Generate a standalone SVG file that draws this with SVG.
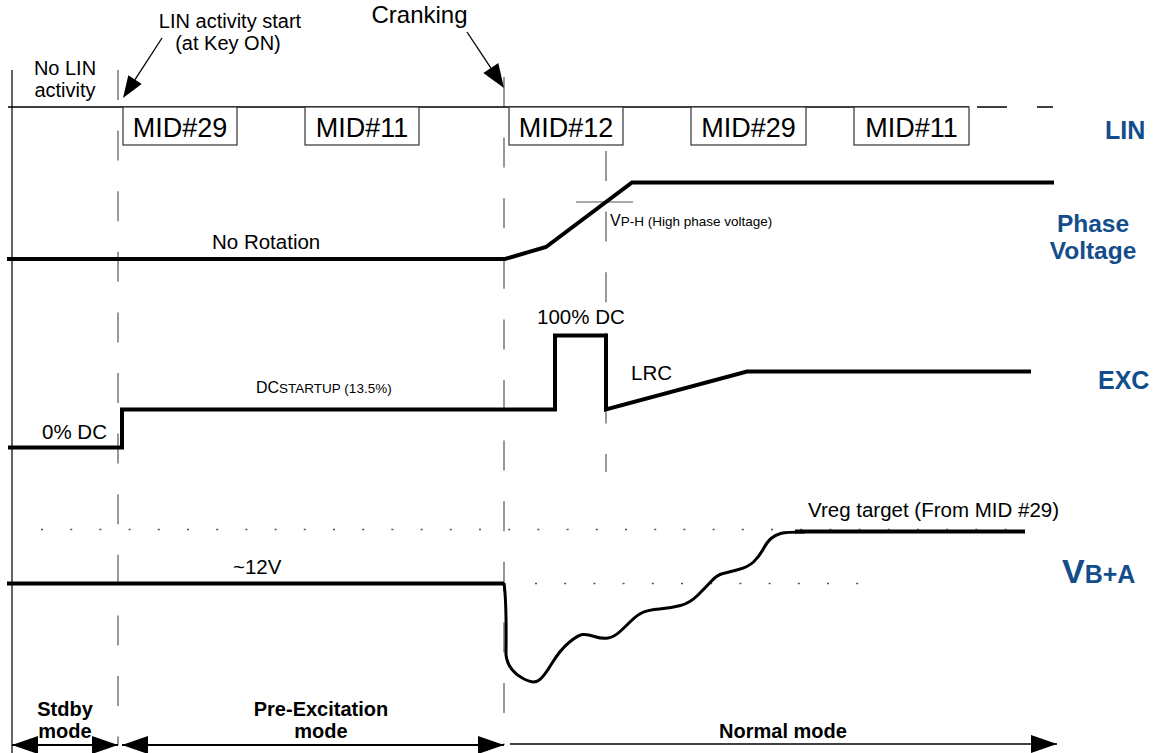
<svg xmlns="http://www.w3.org/2000/svg" width="1157" height="753" viewBox="0 0 1157 753">
<defs>
<style>
text{font-family:"Liberation Sans",Arial,Helvetica,sans-serif;fill:#000}
.t{font-size:20.5px}
.top{font-size:20px}
.mid{font-size:27px}
.lbl{font-size:25px;font-weight:bold;fill:#134d8b}
.mode{font-size:20px;font-weight:bold}
.axis{stroke:#111;stroke-width:1.3;fill:none}
.dash{stroke:#555;stroke-width:1.2;stroke-dasharray:30 30.6;fill:none}
.dot{stroke:#555;stroke-width:1.5;stroke-dasharray:2 27.2;fill:none}
.trace{stroke:#000;stroke-width:4;fill:none}
.box{fill:#fff;stroke:#333;stroke-width:1.2}
.arr{stroke:#000;stroke-width:2;fill:none}
.thin{stroke:#000;stroke-width:1.3;fill:none}
</style>
<marker id="ah" markerUnits="userSpaceOnUse" markerWidth="26" markerHeight="18" refX="26" refY="9" orient="auto-start-reverse" viewBox="0 0 26 18"><path d="M0,0 L26,9 L0,18 z" fill="#000"/></marker>
</defs>
<rect width="1157" height="753" fill="#fff"/>

<g id="grid">
<line class="axis" x1="12" y1="70" x2="12" y2="753"/>
<line class="dash" x1="118" y1="70" x2="118" y2="745"/>
<line class="dash" x1="504" y1="77" x2="504" y2="745"/>
<line class="dash" x1="606" y1="151" x2="606" y2="472"/>
<line class="dot" x1="41" y1="529.5" x2="1030" y2="529.5"/>
<line class="dot" x1="535" y1="583.5" x2="885" y2="583.5"/>
<line stroke="#555" stroke-width="1.2" x1="576" y1="202" x2="633" y2="202"/>
</g>

<g id="lin">
<path class="thin" d="M8,107 H969 M977,107 H1007 M1037,107 H1053"/>
<g id="mid29a"><rect class="box" x="123" y="107" width="114" height="38"/><text class="mid" x="180" y="137" text-anchor="middle">MID#29</text></g>
<g id="mid11a"><rect class="box" x="305" y="107" width="114" height="38"/><text class="mid" x="362" y="137" text-anchor="middle">MID#11</text></g>
<g id="mid12"><rect class="box" x="509" y="107" width="114" height="38"/><text class="mid" x="566" y="137" text-anchor="middle">MID#12</text></g>
<g id="mid29b"><rect class="box" x="691" y="107" width="115" height="38"/><text class="mid" x="748.5" y="137" text-anchor="middle">MID#29</text></g>
<g id="mid11b"><rect class="box" x="854" y="107" width="115" height="38"/><text class="mid" x="911.5" y="137" text-anchor="middle">MID#11</text></g>
<text class="lbl" x="1105" y="139">LIN</text>
</g>

<g id="annotations">
<text class="top" x="65" y="75" text-anchor="middle">No LIN</text>
<text class="top" x="65" y="97" text-anchor="middle">activity</text>
<text class="top" x="230" y="28" text-anchor="middle">LIN activity start</text>
<text class="top" x="228" y="50" text-anchor="middle">(at Key ON)</text>
<text class="top" x="419.5" y="23" text-anchor="middle" style="font-size:24px">Cranking</text>
</g>

<g id="phase">
<path class="trace" d="M7,259 L505,259 L546,247 L632,182.5 L1054,182.5"/>
<text class="t" x="212" y="249">No Rotation</text>
<text x="610" y="226" style="font-size:16px">V<tspan style="font-size:13.5px">P-H (High phase voltage)</tspan></text>
<text class="lbl" x="1093" y="232" text-anchor="middle" style="font-size:24.5px">Phase</text>
<text class="lbl" x="1093" y="259" text-anchor="middle" style="font-size:24.5px">Voltage</text>
</g>

<g id="exc">
<path class="trace" d="M8,447.5 L122,447.5 L122,409.5 L555,409.5 L555,335.5 L606,335.5 L606,409.5 L747,371.5 L1031,371.5"/>
<text class="t" x="42" y="439">0% DC</text>
<text x="256" y="393" style="font-size:16px">DC<tspan style="font-size:13.5px">STARTUP (13.5%)</tspan></text>
<text class="t" x="537" y="324">100% DC</text>
<text class="t" x="631" y="380">LRC</text>
<text class="lbl" x="1098" y="389">EXC</text>
</g>

<g id="vba">
<path class="trace" d="M7,583.5 L504,583.5"/>
<path stroke="#000" stroke-width="3" fill="none" stroke-linejoin="round" d="M504,583 C507,605 506,640 506,655 Q508,671 524,679 Q534,684 538.5,680.5 Q543,678 551.5,664 Q560,650 569,642.5 Q578,635 582.5,634.5 Q587,634 594.5,636.5 Q602,639 608,638 Q614,637 619.5,632 Q625,627 631,621 Q637,615 642.5,612.5 Q648,610 659.5,609 Q671,608 680.5,605.5 Q690,603 698,595 Q706,587 711.5,581 Q717,575 723,573.5 Q729,572 738.5,569.5 Q748,567 753.5,562 Q759,557 763,549.5 Q767,542 771,538.5 Q775,535 780.5,533.5 Q786,532 805,532"/>
<path class="trace" d="M795,531.5 L1025,531.5"/>
<text class="t" x="233" y="574">~12V</text>
<text class="t" x="808" y="517">Vreg target (From MID #29)</text>
<text class="lbl" x="1062" y="583" style="font-size:34px">V<tspan style="font-size:25px">B+A</tspan></text>
</g>

<g id="modes">
<text class="mode" x="65" y="716" text-anchor="middle">Stdby</text>
<text class="mode" x="65" y="738" text-anchor="middle">mode</text>
<text class="mode" x="321" y="716" text-anchor="middle">Pre-Excitation</text>
<text class="mode" x="321" y="738" text-anchor="middle">mode</text>
<text class="mode" x="783" y="738" text-anchor="middle">Normal mode</text>
</g>

<g id="connectors">
<line class="arr" x1="12" y1="745" x2="118" y2="745" marker-start="url(#ah)" marker-end="url(#ah)"/>
<line class="arr" x1="122" y1="745" x2="504" y2="745" marker-start="url(#ah)" marker-end="url(#ah)"/>
<line class="thin" x1="510" y1="744" x2="1057" y2="744" marker-end="url(#ah)"/>
<line class="thin" x1="162" y1="38" x2="135" y2="79.6"/>
<polygon points="123,98 141.7,84 128.3,75.2" fill="#000"/>
<line class="thin" x1="467" y1="32" x2="490.8" y2="67.9"/>
<polygon points="504,88 498.3,62.9 483.3,72.9" fill="#000"/>
</g>
</svg>
